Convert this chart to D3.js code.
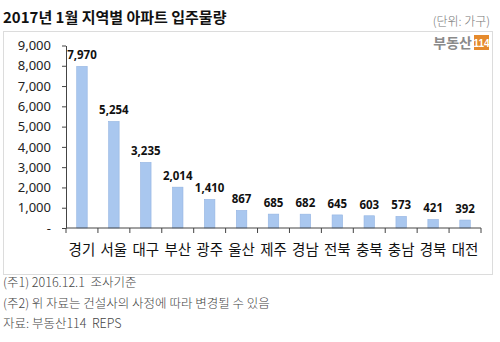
<!DOCTYPE html>
<html>
<head>
<meta charset="utf-8">
<script src="https://cdn.jsdelivr.net/npm/d3@7"></script>
<style>
  html, body { margin: 0; padding: 0; background: #fff; }
  svg { display: block; font-family: "Noto Sans CJK KR", "Noto Sans", sans-serif; }
  .note { white-space: pre; }
</style>
</head>
<body>
<svg id="chart" width="500" height="342"></svg>
<script>
// 2017년 1월 지역별 아파트 입주물량 (단위: 가구)
const regions = ["경기", "서울", "대구", "부산", "광주", "울산", "제주", "경남", "전북", "충북", "충남", "경북", "대전"];
const households = [7970, 5254, 3235, 2014, 1410, 867, 685, 682, 645, 603, 573, 421, 392];
const yTicks = [0, 1000, 2000, 3000, 4000, 5000, 6000, 7000, 8000, 9000];
const notes = ["(주1) 2016.12.1  조사기준", "(주2) 위 자료는 건설사의 사정에 따라 변경될 수 있음", "자료: 부동산114  REPS"];

const svg = d3.select("#chart");

// title and unit
svg.append("text").attr("x", 3).attr("y", 23)
  .attr("font-size", 15).attr("font-weight", "bold").attr("fill", "#111")
  .text("2017년 1월 지역별 아파트 입주물량");
svg.append("text").attr("x", 490).attr("y", 26).attr("text-anchor", "end")
  .attr("font-size", 12).attr("font-weight", 300).attr("fill", "#777")
  .text("(단위: 가구)");

// chart frame
svg.append("rect").attr("x", 3.5).attr("y", 31.5).attr("width", 489).attr("height", 243)
  .attr("fill", "none").attr("stroke", "#dcdcdc");

// logo
svg.append("text").attr("x", 472).attr("y", 48).attr("text-anchor", "end")
  .attr("font-size", 14).attr("font-weight", "bold").attr("fill", "#8a8a8a")
  .text("부동산");
svg.append("rect").attr("x", 474).attr("y", 35).attr("width", 15).attr("height", 15).attr("fill", "#e58a2c");
svg.append("text").attr("x", 481.5).attr("y", 46.5).attr("text-anchor", "middle")
  .attr("font-size", 10).attr("font-weight", "bold").attr("fill", "#fff")
  .attr("font-family", "Liberation Sans Narrow, Liberation Sans, sans-serif")
  .text("114");

// scales
const x = d3.scaleBand().domain(regions).range([66, 481]).padding(0);
const y = d3.scaleLinear().domain([0, 9000]).range([228, 45.5]);
const barW = 10.5;

// y axis
const yAxis = svg.append("g").attr("transform", "translate(66,0)")
  .call(d3.axisLeft(y).tickValues(yTicks).tickSize(4).tickSizeOuter(0).tickPadding(11)
    .tickFormat(d => d === 0 ? "-" : d3.format(",")(d)));
yAxis.select(".domain").attr("stroke", "#444");
yAxis.selectAll(".tick line").attr("stroke", "#444");
yAxis.selectAll(".tick text").attr("font-size", 13).attr("fill", "#222")
  .attr("font-family", "Noto Sans, sans-serif");

// bars
svg.append("g").selectAll("rect").data(regions).join("rect")
  .attr("x", (d) => x(d) + x.bandwidth() / 2 - barW / 2)
  .attr("y", (d, i) => y(households[i]))
  .attr("width", barW)
  .attr("height", (d, i) => y(0) - y(households[i]))
  .attr("fill", "#a9c7ef")
  .attr("stroke", "#93b4e2").attr("stroke-width", 0.6);

// value labels
svg.append("g").selectAll("text").data(regions).join("text")
  .attr("x", (d) => x(d) + x.bandwidth() / 2)
  .attr("y", (d, i) => y(households[i]) - 7)
  .attr("text-anchor", "middle")
  .attr("font-size", 11.5).attr("font-weight", "bold").attr("fill", "#111")
  .attr("font-family", "Noto Sans, sans-serif")
  .text((d, i) => d3.format(",")(households[i]));

// x axis with ticks at band boundaries
const xAxis = svg.append("g").attr("transform", "translate(0,228)");
xAxis.append("line").attr("x1", 66).attr("x2", 481).attr("stroke", "#444");
xAxis.selectAll("line.b").data(regions.concat([null])).join("line").attr("class", "b")
  .attr("x1", (d) => d === null ? 481 : x(d)).attr("x2", (d) => d === null ? 481 : x(d))
  .attr("y1", 0).attr("y2", 5).attr("stroke", "#444");
xAxis.selectAll("text").data(regions).join("text")
  .attr("x", (d) => x(d) + x.bandwidth() / 2)
  .attr("y", 27)
  .attr("text-anchor", "middle")
  .attr("font-size", 14.5).attr("fill", "#111")
  .text((d) => d);

// footnotes
svg.append("g").selectAll("text").data(notes).join("text")
  .attr("class", "note")
  .attr("x", 3).attr("y", (d, i) => 287 + i * 20.5)
  .attr("font-size", 12.5).attr("font-weight", 300).attr("fill", "#444")
  .text((d) => d);
</script>
</body>
</html>
